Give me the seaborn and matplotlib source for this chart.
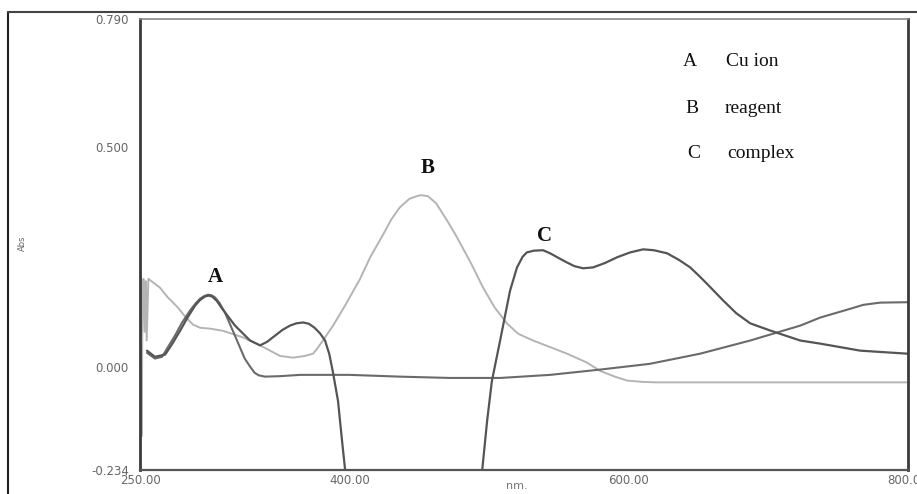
import numpy as np
import pandas as pd
import matplotlib
matplotlib.use("Agg")
import matplotlib.pyplot as plt
from matplotlib.lines import Line2D
import seaborn as sns

# ---- data (wavelength nm, absorbance) ----
cu_nm = [255, 260.7, 265.8, 270, 275, 280, 285.8, 290, 293, 296, 298.7, 301, 303.7, 307, 310.9,
         318, 325, 329, 332, 335, 339.5, 350, 364.6, 400, 436, 472, 508, 543.7, 579.5, 615, 651,
         687, 723, 737, 758.6, 768, 780, 800]
cu_abs = [0.032, 0.019, 0.023, 0.045, 0.071, 0.100, 0.128, 0.145, 0.155, 0.161, 0.164, 0.163,
          0.158, 0.145, 0.123, 0.071, 0.019, 0.000, -0.013, -0.019, -0.022, -0.021, -0.018, -0.018,
          -0.022, -0.025, -0.025, -0.018, -0.006, 0.007, 0.030, 0.060, 0.094, 0.112, 0.132, 0.141,
          0.146, 0.147]

reag_nm = [250, 250.6, 251.2, 251.8, 252.5, 253.3, 254, 254.8, 256, 264.3, 269.3, 276.5, 283, 288,
           293, 300, 309.5, 323.8, 336, 350.3, 359.6, 368, 373.9, 377, 381, 388.3, 396.8, 407.6,
           415, 424, 430, 436, 443, 450.6, 456, 462, 470, 476, 481, 487.6, 495.7, 504, 513, 521,
           531.5, 555.9, 570, 579.5, 590, 598.9, 610, 620, 700, 800]
reag_abs = [0.214, 0.205, -0.157, 0.190, 0.200, 0.080, 0.195, 0.060, 0.200, 0.180, 0.160, 0.137,
            0.112, 0.096, 0.089, 0.087, 0.082, 0.067, 0.049, 0.025, 0.021, 0.025, 0.030, 0.042,
            0.060, 0.094, 0.139, 0.200, 0.250, 0.300, 0.335, 0.362, 0.382, 0.390, 0.388, 0.372,
            0.332, 0.300, 0.271, 0.232, 0.180, 0.135, 0.098, 0.075, 0.060, 0.030, 0.010, -0.009,
            -0.022, -0.031, -0.034, -0.035, -0.035, -0.035]

cplx_nm = [255, 260.7, 268, 273, 278.7, 284, 289.4, 293, 296.6, 299, 301.6, 305, 308.7, 318,
           328.8, 336, 341, 346.7, 352, 357.5, 362, 366.8, 371, 375, 379, 382.5, 385.5, 388,
           391.8, 394.7, 397, 400, 490, 495, 498.6, 502, 507.9, 515, 520, 524, 527, 532, 538.7,
           543.7, 550, 555.9, 561, 567.3, 574.5, 583, 591.7, 601, 610.3, 618, 627.5, 636, 644, 650,
           656, 667.6, 677, 687, 701, 722.8, 737, 765.8, 800]
cplx_abs = [0.037, 0.023, 0.028, 0.052, 0.082, 0.112, 0.139, 0.152, 0.160, 0.162, 0.160, 0.150,
            0.133, 0.094, 0.060, 0.049, 0.057, 0.071, 0.084, 0.094, 0.099, 0.101, 0.098, 0.089,
            0.076, 0.060, 0.030, -0.009, -0.077, -0.168, -0.237, -0.40, -0.40, -0.237, -0.122,
            -0.032, 0.060, 0.173, 0.226, 0.250, 0.260, 0.264, 0.265, 0.258, 0.247, 0.237, 0.229,
            0.224, 0.226, 0.236, 0.249, 0.260, 0.267, 0.265, 0.258, 0.243, 0.226, 0.208, 0.189,
            0.151, 0.122, 0.099, 0.083, 0.060, 0.053, 0.037, 0.030]

x_ticks = [250, 400, 600, 800]
x_tick_labels = ["250.00", "400.00", "600.00", "800.00"]
y_ticks = [-0.234, 0.0, 0.5, 0.79]
y_tick_labels = ["-0.234", "0.000", "0.500", "0.790"]
legend_keys = ["A", "B", "C"]
legend_names = ["Cu ion", "reagent", "complex"]

# ---- figure ----
sns.set_theme(style="white")
W, H = 917, 494
fig = plt.figure(figsize=(W / 100, H / 100), dpi=100)
ax = fig.add_axes([140 / W, 1 - 470 / H, (908 - 140) / W, (470 - 19) / H])

df_cu = pd.DataFrame({"nm": cu_nm, "abs": cu_abs})
df_re = pd.DataFrame({"nm": reag_nm, "abs": reag_abs})
df_cx = pd.DataFrame({"nm": cplx_nm, "abs": cplx_abs})

sns.lineplot(data=df_re, x="nm", y="abs", ax=ax, color="#b4b4b4", linewidth=1.4,
             estimator=None, sort=False)
sns.lineplot(data=df_cu, x="nm", y="abs", ax=ax, color="#6a6a6a", linewidth=1.5,
             estimator=None, sort=False)
sns.lineplot(data=df_cx, x="nm", y="abs", ax=ax, color="#555555", linewidth=1.6,
             estimator=None, sort=False)

ax.set_xlim(250, 800)
ax.set_ylim(-0.234, 0.79)
ax.set_xticks(x_ticks)
ax.set_xticklabels(x_tick_labels)
ax.set_yticks(y_ticks)
ax.set_yticklabels(y_tick_labels)
ax.tick_params(axis="both", direction="in", length=4, width=1, colors="#555555",
               labelsize=8.5, labelcolor="#666666")
ax.tick_params(axis="y", pad=8)
ax.tick_params(axis="x", pad=3)
ax.set_xlabel("")
ax.set_ylabel("")

for side, lw, col in [("left", 2.0, "#3a3a3a"), ("right", 2.0, "#3a3a3a"),
                      ("bottom", 1.6, "#555555"), ("top", 1.2, "#888888")]:
    ax.spines[side].set_visible(True)
    ax.spines[side].set_linewidth(lw)
    ax.spines[side].set_color(col)

# curve labels
serif = ["Liberation Serif", "DejaVu Serif"]
ax.text(303.7, 0.205, "A", family=serif, fontsize=15, fontweight="bold", ha="center",
        va="center", color="#111111")
ax.text(456, 0.452, "B", family=serif, fontsize=15, fontweight="bold", ha="center",
        va="center", color="#111111")
ax.text(540, 0.298, "C", family=serif, fontsize=15, fontweight="bold", ha="center",
        va="center", color="#111111")

# legend-like annotation
ys = [62, 108, 153]
kx = [690, 692, 694]
nx = [726, 725, 727]
for k, name, yy, xk, xn in zip(legend_keys, legend_names, ys, kx, nx):
    fig.text(xk / W, 1 - yy / H, k, family=serif, fontsize=14, ha="center", va="center",
             color="#111111")
    fig.text(xn / W, 1 - yy / H, name, family=serif, fontsize=14, ha="left", va="center",
             color="#111111")

# axis titles
fig.text(517 / W, 1 - 486 / H, "nm.", fontsize=8, color="#777777", ha="center", va="center")
fig.text(22 / W, 1 - 243 / H, "Abs", fontsize=6, color="#666666", ha="center", va="center",
         rotation=90)

# outer frame (left and top edges visible)
fig.add_artist(Line2D([8 / W, 8 / W], [0, 1 - 12 / H], transform=fig.transFigure,
                      color="#222222", linewidth=1.5))
fig.add_artist(Line2D([8 / W, 1], [1 - 12 / H, 1 - 12 / H], transform=fig.transFigure,
                      color="#444444", linewidth=1.5))

fig.savefig("out.png", dpi=100)
